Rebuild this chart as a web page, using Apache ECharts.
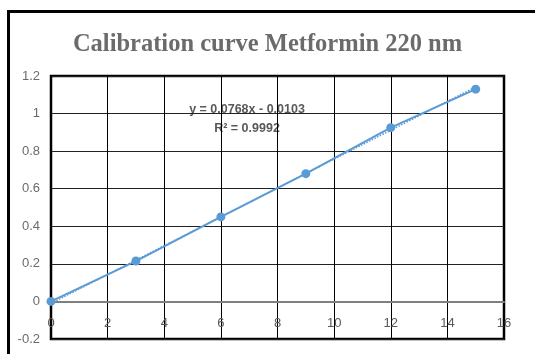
<!DOCTYPE html>
<html><head><meta charset="utf-8">
<script src="https://cdn.jsdelivr.net/npm/echarts@6/dist/echarts.min.js"></script>
<style>html,body{margin:0;padding:0;background:#fff}#c{width:535px;height:354px}</style>
</head><body><div id="c"></div>
<script>
const titleText = "Calibration curve Metformin 220 nm";
const concX = [0, 3, 6, 9, 12, 15];
const absY = [0, 0.215, 0.45, 0.68, 0.925, 1.13];
const trendX = [0, 15];
const trendY = [-0.0103, 1.1417];
const equationText = "y = 0.0768x - 0.0103";
const r2Text = "R² = 0.9992";

const chart = echarts.init(document.getElementById('c'), null, {renderer:'canvas'});
const fmt = v => String(Math.round(v*10)/10);
const gridTop = 76, gridBottom = 15, H = 354;
const plotH = H - gridTop - gridBottom;
const zeroOffset = -plotH * (0 - (-0.2)) / (1.2 - (-0.2));
chart.setOption({
  animation:false,
  backgroundColor:'#fff',
  title:{text:titleText, left:'center', top:27, textStyle:{fontFamily:'Liberation Serif', fontWeight:'bold', fontSize:24.5, color:'#6b6b6b'}},
  grid:{left:51, top:gridTop, right:31, bottom:gridBottom, outerBoundsMode:'none', containLabel:false, show:true, borderColor:'#000', borderWidth:2.5, backgroundColor:'transparent'},
  xAxis:{type:'value', min:0, max:16, interval:2, offset:zeroOffset,
    axisLine:{onZero:false, lineStyle:{color:'#7f7f7f', width:2}},
    axisTick:{show:false},
    axisLabel:{color:'#595959', fontFamily:'Liberation Sans', fontSize:13, margin:15, showMaxLabel:true, showMinLabel:true},
    splitLine:{show:true, lineStyle:{color:'#000', width:1}}},
  yAxis:{type:'value', min:-0.2, max:1.2, interval:0.2,
    axisLine:{show:false}, axisTick:{show:false},
    axisLabel:{color:'#6b6b6b', fontFamily:'Liberation Sans', fontSize:13, margin:11, formatter:fmt},
    splitLine:{show:true, lineStyle:{color:'#222', width:1}}},
  series:[
    {type:'line', data:trendX.map((x,i)=>[x,trendY[i]]), symbol:'none', lineStyle:{color:'#5B9BD5', width:1.5, type:'dotted'}, z:3},
    {type:'line', data:concX.map((x,i)=>[x,absY[i]]), symbol:'circle', symbolSize:9, itemStyle:{color:'#5B9BD5'}, lineStyle:{color:'#5B9BD5', width:2}, z:4, clip:false}
  ],
  graphic:[
    {type:'rect', shape:{x:8.5, y:11.5, width:540, height:360}, style:{fill:'none', stroke:'#000', lineWidth:3}, silent:true},
    {type:'text', x:247, y:110, style:{text:equationText, fill:'#595959', font:'bold 12.5px "Liberation Sans"', textAlign:'center', textVerticalAlign:'middle'}},
    {type:'text', x:247, y:129, style:{text:r2Text, fill:'#595959', font:'bold 12.5px "Liberation Sans"', textAlign:'center', textVerticalAlign:'middle'}}
  ]
});
</script></body></html>
